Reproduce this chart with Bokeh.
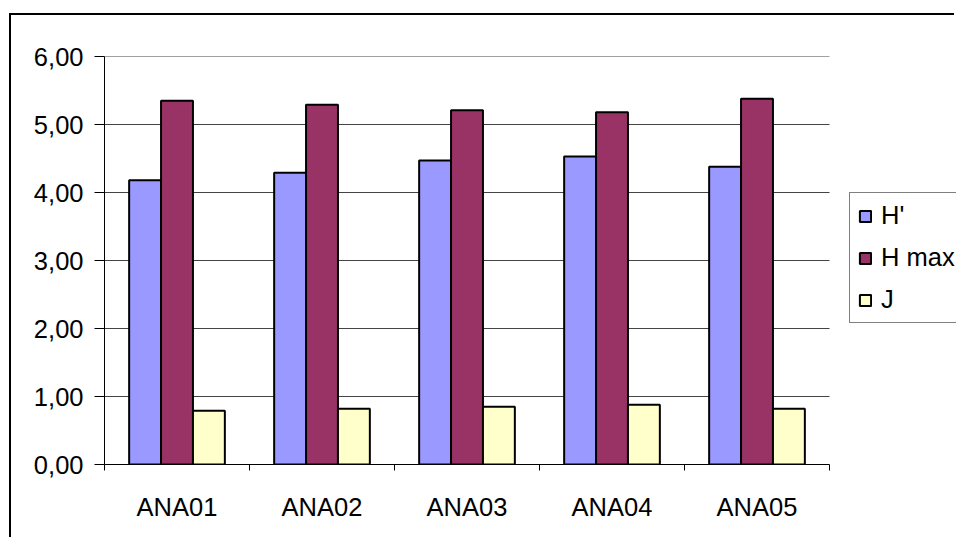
from bokeh.plotting import figure
from bokeh.models import (ColumnDataSource, Range1d, FixedTicker, CustomJSTickFormatter,
                          Legend, LegendItem)
from bokeh.transform import dodge
from bokeh.embed import file_html
from bokeh.resources import INLINE

# Diversity indices per sampling site
sites = ["ANA01", "ANA02", "ANA03", "ANA04", "ANA05"]
h_prime = [4.18, 4.29, 4.47, 4.53, 4.38]
h_max = [5.35, 5.29, 5.21, 5.18, 5.38]
j_even = [0.79, 0.82, 0.85, 0.88, 0.82]
y_ticks = [0, 1, 2, 3, 4, 5, 6]

FONT = "Liberation Sans"
FONT_SIZE = "25.5px"
colors = {"H'": "#9999FF", "H max": "#993366", "J": "#FFFFCC"}

n = len(sites)
centers = [i + 0.5 for i in range(n)]
src = ColumnDataSource(dict(x=centers, hp=h_prime, hm=h_max, j=j_even))

# The frame runs to the right edge of the canvas so the legend beside the
# bars is not clipped; the categories fill the first 725 of its 852 px.
PLOT_W, FRAME_W, CAT_W = 945, 852, 725
p = figure(width=PLOT_W, height=524, output_backend="svg", toolbar_location=None,
           x_range=Range1d(0, n * FRAME_W / CAT_W), y_range=Range1d(0, 6),
           min_border_left=PLOT_W - FRAME_W, min_border_right=0,
           min_border_top=41, min_border_bottom=75)
p.background_fill_color = "white"
p.border_fill_color = "white"
p.outline_line_color = None
# chart-area border (top and left edges fall inside the page)
p.margin = (13, 0, 0, 9)
p.styles = {"border-top": "2px solid black", "border-left": "2px solid black"}

# horizontal gridlines limited to the category area
grid_y = y_ticks[1:]
p.segment(x0=[0] * len(grid_y), x1=[n] * len(grid_y), y0=grid_y, y1=grid_y,
          line_color="#444444", line_width=1)

bw = 0.22
r1 = p.vbar(x=dodge("x", -bw, range=p.x_range), top="hp", width=bw, source=src,
            fill_color=colors["H'"], line_color="black", line_width=2)
r2 = p.vbar(x=dodge("x", 0.0, range=p.x_range), top="hm", width=bw, source=src,
            fill_color=colors["H max"], line_color="black", line_width=2)
r3 = p.vbar(x=dodge("x", bw, range=p.x_range), top="j", width=bw, source=src,
            fill_color=colors["J"], line_color="black", line_width=2)

# x axis: labels at category centres, tick marks at category boundaries
xa = p.xaxis[0]
xa.bounds = (0, n)
xa.ticker = FixedTicker(ticks=centers, minor_ticks=list(range(n + 1)))
xa.major_label_overrides = {c: s for c, s in zip(centers, sites)}
xa.major_tick_out = 0
xa.major_tick_in = 0
xa.minor_tick_out = 6
xa.minor_tick_in = 0
xa.minor_tick_line_color = "black"
xa.axis_line_color = "black"
xa.major_label_standoff = 22
xa.major_label_text_font = FONT
xa.major_label_text_font_size = FONT_SIZE
xa.major_label_text_color = "black"

ya = p.yaxis[0]
ya.ticker = FixedTicker(ticks=y_ticks)
ya.formatter = CustomJSTickFormatter(code="return tick.toFixed(2).replace('.', ',');")
ya.major_tick_out = 10
ya.major_tick_in = 0
ya.minor_tick_line_color = None
ya.major_tick_line_color = "black"
ya.axis_line_color = "black"
ya.major_label_standoff = 11
ya.major_label_text_font = FONT
ya.major_label_text_font_size = FONT_SIZE
ya.major_label_text_color = "black"

p.xgrid.grid_line_color = None
p.ygrid.grid_line_color = None

legend = Legend(items=[LegendItem(label="H'", renderers=[r1]),
                       LegendItem(label="H max", renderers=[r2]),
                       LegendItem(label="J", renderers=[r3])],
                location=(745, 141), orientation="vertical",
                glyph_width=14, glyph_height=14, label_height=14,
                spacing=13, padding=8, margin=0, label_standoff=9,
                label_width=90,
                label_text_font=FONT, label_text_font_size=FONT_SIZE,
                label_text_color="black",
                border_line_color="black", border_line_width=1,
                background_fill_color="white", background_fill_alpha=1)
p.add_layout(legend, "center")

open("out.html", "w").write(file_html(p, INLINE))
